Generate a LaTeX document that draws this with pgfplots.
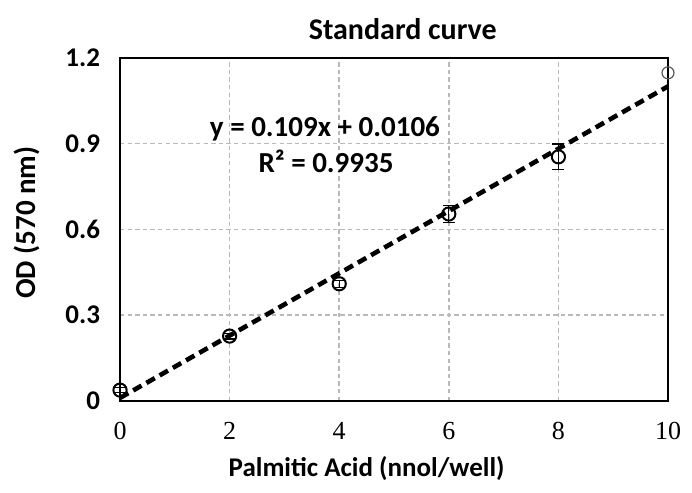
\documentclass[border=0pt]{standalone}
\usepackage{fontspec}
\setmainfont{Carlito}
\newfontfamily\tickserif{Liberation Serif}
\usepackage{pgfplots}
\pgfplotsset{compat=1.18}
\definecolor{gridgray}{RGB}{185,185,185}
\definecolor{markgray}{RGB}{90,90,90}
\begin{document}
\begin{tikzpicture}
% 1px of the reference = 0.5pt
\begin{axis}[
    scale only axis, width=274pt, height=171.5pt,
    xmin=0, xmax=10, ymin=0, ymax=1.2,
    xtick={0,2,4,6,8,10}, ytick={0,0.3,0.6,0.9,1.2},
    /pgf/number format/assume math mode=true,
    yticklabel style={/pgf/number format/fixed, /pgf/number format/precision=1,
        font=\bfseries\fontsize{13.5}{15}\selectfont, xshift=-6.5pt},
    xticklabel style={font=\tickserif\fontsize{13}{15}\selectfont, yshift=-7pt},
    major tick length=0,
    grid=major,
    major grid style={gridgray, line width=0.75pt, dash pattern=on 2.2pt off 1.6pt},
    axis line style={line width=1pt},
    clip=false,
]
% linear fit y = 0.109x + 0.0106
\addplot[black, line width=2.3pt, dash pattern=on 4.8pt off 2.8pt] coordinates {(0,0.0106)(10,1.1006)};
% measured standards
\addplot[only marks, mark=o, mark size=3.3pt, black, line width=1pt,
    error bars/.cd, y dir=both, y explicit,
    error bar style={line width=0.6pt}, error mark options={rotate=90, mark size=3pt, line width=0.6pt}]
  coordinates {(0,0.038) +- (0,0.008) (2,0.227) +- (0,0.01) (4,0.41) +- (0,0.012) (6,0.654) +- (0,0.03) (8,0.854) +- (0,0.045)};
\addplot[only marks, mark=o, mark size=3pt, markgray, line width=0.6pt]
  coordinates {(10,1.148)};
\node[font=\bfseries\fontsize{14.5}{16}\selectfont, anchor=base] at (axis cs:3.74,0.924) {y = 0.109x + 0.0106};
\node[font=\bfseries\fontsize{14.5}{16}\selectfont, anchor=base] at (axis cs:3.76,0.801) {R² = 0.9935};
\node[font=\bfseries\fontsize{15}{17}\selectfont, anchor=base] at (rel axis cs:0.516,1.055) {Standard curve};
\node[font=\bfseries\fontsize{13.5}{15}\selectfont, anchor=base] at (rel axis cs:0.45,-0.221) {Palmitic Acid (nnol/well)};
\node[font=\bfseries\fontsize{14.5}{16}\selectfont, anchor=base, rotate=90] at (rel axis cs:-0.155,0.52) {OD (570 nm)};
\coordinate (bl) at (rel axis cs:-0.219,-0.268);
\coordinate (tr) at (rel axis cs:1.0438,1.169);
\end{axis}
\pgfresetboundingbox
\useasboundingbox (bl) rectangle (tr);
\end{tikzpicture}
\end{document}
